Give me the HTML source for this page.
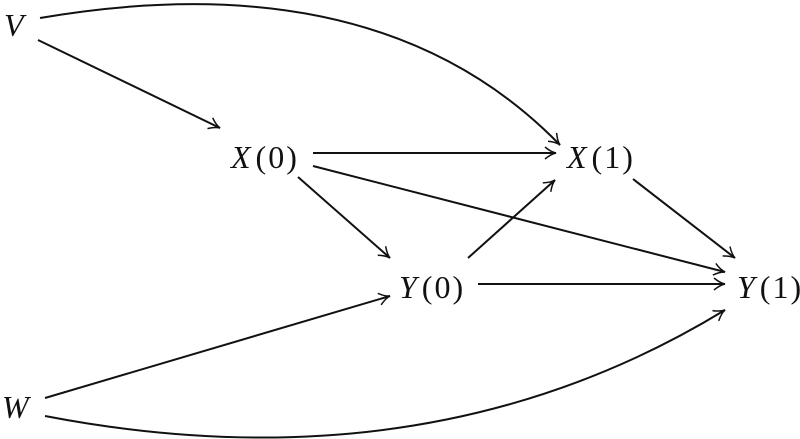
<!DOCTYPE html>
<html><head><style>
html,body{margin:0;padding:0;background:#fff;}
svg{display:block}
text{font-family:"Liberation Serif",serif;font-size:32px;fill:#111}
.i{font-style:italic}
</style></head><body>
<svg width="800" height="439" viewBox="0 0 800 439" xmlns="http://www.w3.org/2000/svg">
<defs>
<marker id="a" viewBox="0 0 14 14" refX="12" refY="7" markerWidth="14" markerHeight="14" markerUnits="userSpaceOnUse" orient="auto">
<path d="M1,1 Q7,6 12,7 Q7,8 1,13" fill="none" stroke="#111" stroke-width="1.5"/>
</marker>
</defs>
<g stroke="#111" stroke-width="2" fill="none" marker-end="url(#a)">
<path d="M40,18 Q380,-40 560,145"/>
<line x1="38" y1="40" x2="220" y2="128"/>
<line x1="313" y1="153" x2="556" y2="153"/>
<line x1="298" y1="177" x2="390" y2="258"/>
<line x1="313" y1="166" x2="725" y2="272"/>
<line x1="468" y1="258" x2="555" y2="180"/>
<line x1="633" y1="179" x2="735" y2="258"/>
<line x1="478" y1="284" x2="725" y2="284"/>
<line x1="45" y1="398" x2="390" y2="296"/>
<path d="M45,416 Q430,490 725,310"/>
</g>
<text x="4" y="36" class="i">V</text>
<text x="231" y="168"><tspan class="i">X</tspan><tspan dx="5" letter-spacing="2">(0)</tspan></text>
<text x="567" y="168"><tspan class="i">X</tspan><tspan dx="5" letter-spacing="2">(1)</tspan></text>
<text x="399" y="298"><tspan class="i">Y</tspan><tspan dx="5" letter-spacing="2">(0)</tspan></text>
<text x="737" y="298"><tspan class="i">Y</tspan><tspan dx="5" letter-spacing="2">(1)</tspan></text>
<text x="2" y="418" class="i">W</text>
</svg>
</body></html>
